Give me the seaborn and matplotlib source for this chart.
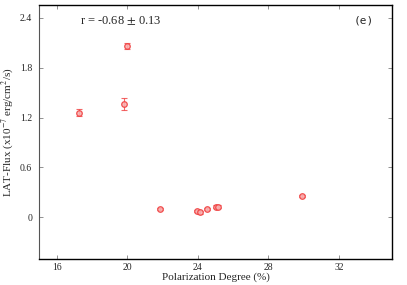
import numpy as np
import pandas as pd
import seaborn as sns
import matplotlib.pyplot as plt

# Datos
pol_degree = [17.27, 19.83, 19.96, 21.88, 23.97, 24.10, 24.53, 25.00, 25.12, 29.90]
lat_flux = [1.26, 1.36, 2.06, 0.10, 0.075, 0.06, 0.10, 0.13, 0.13, 0.26]
flux_err = [0.04, 0.07, 0.04, 0.015, 0.015, 0.015, 0.015, 0.015, 0.015, 0.015]
x_ticks = [16, 20, 24, 28, 32]
y_ticks = [0, 0.6, 1.2, 1.8, 2.4]

df = pd.DataFrame({"pol": pol_degree, "flux": lat_flux, "err": flux_err})

sns.set_theme(style="ticks")
plt.rcParams["font.family"] = ["Liberation Serif", "DejaVu Serif"]
plt.rcParams["mathtext.fontset"] = "stix"

fig = plt.figure(figsize=(4.07, 2.85), dpi=100)
ax = fig.add_axes([0.096, 0.091, 0.867, 0.891])

red = "#f04040"
ax.errorbar(df["pol"], df["flux"], yerr=df["err"], fmt="none",
            ecolor=red, elinewidth=0.8, capsize=2, capthick=0.8, alpha=0.8)
sns.scatterplot(data=df, x="pol", y="flux", ax=ax, s=16, marker="o",
                facecolor="#f8b0b0", edgecolor=red, linewidth=0.9, alpha=0.9,
                zorder=3)

ax.set_xlim(15, 35)
ax.set_ylim(-0.5, 2.55)
ax.set_xticks(x_ticks)
ax.set_yticks(y_ticks)
ax.set_yticklabels(["0", "0.6", "1.2", "1.8", "2.4"])
ax.tick_params(direction="in", length=3, width=0.6, color="gray",
               labelsize=7, top=True, right=True)
ax.tick_params(axis="x", pad=3)
ax.tick_params(axis="y", pad=5)
for side in ["top", "bottom", "right"]:
    ax.spines[side].set_color("black")
    ax.spines[side].set_linewidth(1.0)
ax.spines["left"].set_color("#555555")
ax.spines["left"].set_linewidth(0.8)

ax.set_xlabel("Polarization Degree (%)", fontsize=8, labelpad=0)
ax.set_ylabel("LAT-Flux (x10$^{-7}$ erg/cm$^{2}$/s)", fontsize=8, labelpad=3)

ax.text(0.115, 0.94, r"r = -0.68 $\pm$ 0.13", transform=ax.transAxes,
        fontsize=9, va="center", ha="left")
ax.text(0.95, 0.94, "(e)", transform=ax.transAxes, fontsize=8,
        va="center", ha="right", family=["DejaVu Sans Mono"])

fig.savefig("out.png", dpi=100)
